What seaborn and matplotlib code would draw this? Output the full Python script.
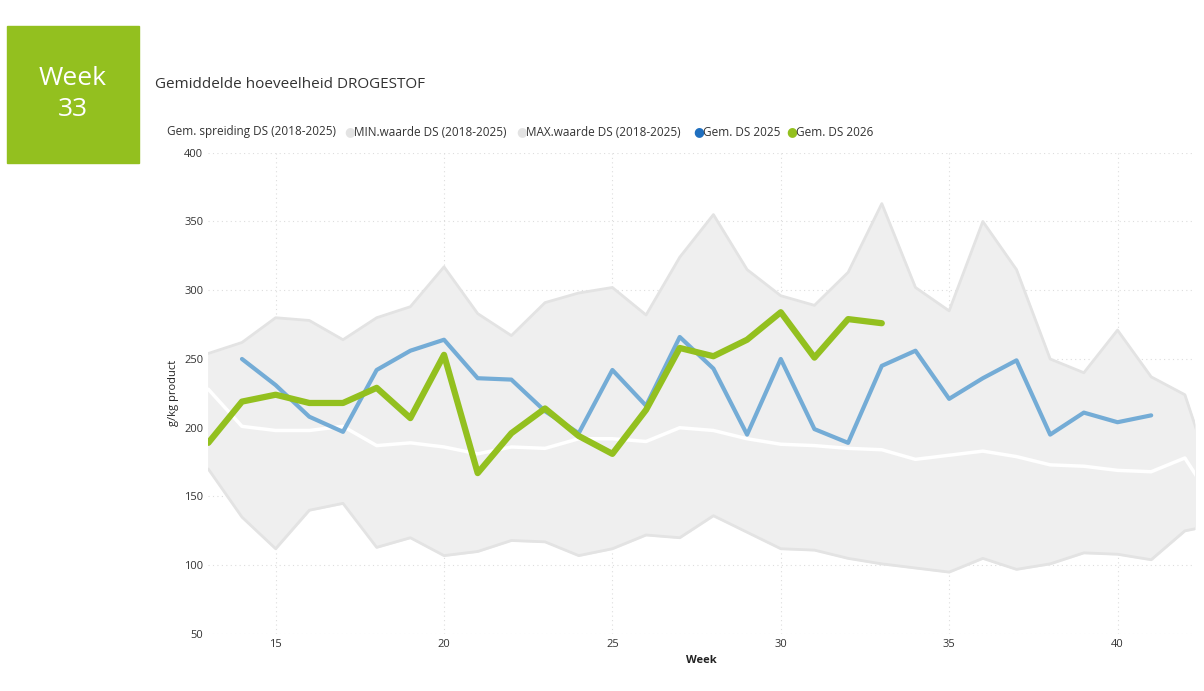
import matplotlib
matplotlib.use("Agg")
import matplotlib.pyplot as plt
import seaborn as sns
import pandas as pd

sns.set_theme(style="white")
plt.rcParams['font.family'] = ['Open Sans', 'DejaVu Sans']

weeks = list(range(13, 44))
max_ds = [254,262,280,278,264,280,288,317,283,267,291,298,302,282,324,355,315,296,289,313,363,302,285,350,315,250,240,271,237,224,150]
min_ds = [170,135,112,140,145,113,120,107,110,118,117,107,112,122,120,136,124,112,111,105,101,98,95,105,97,101,109,108,104,125,130]
mean_ds = [228,201,198,198,201,187,189,186,181,186,185,192,192,190,200,198,192,188,187,185,184,177,180,183,179,173,172,169,168,178,140]
weeks_2025 = list(range(14, 42))
ds_2025 = [250,231,208,197,242,256,264,236,235,212,196,242,216,266,243,195,250,199,189,245,256,221,236,249,195,211,204,209]
weeks_2026 = list(range(13, 34))
ds_2026 = [189,219,224,218,218,229,207,253,167,196,214,194,181,213,258,252,264,284,251,279,276]

fig = plt.figure(figsize=(12.04, 6.91), dpi=100)
ax = fig.add_axes([0.173, 0.0825, 0.8195, 0.6965])
ax.fill_between(weeks, min_ds, max_ds, color="#efefef", zorder=1)
sns.lineplot(x=weeks, y=max_ds, ax=ax, color="#e3e3e3", lw=2, zorder=2)
sns.lineplot(x=weeks, y=min_ds, ax=ax, color="#e3e3e3", lw=2, zorder=2)
sns.lineplot(x=weeks, y=mean_ds, ax=ax, color="white", lw=2.5, zorder=3)
sns.lineplot(x=weeks_2025, y=ds_2025, ax=ax, color="#74acd6", lw=3, zorder=4)
sns.lineplot(x=weeks_2026, y=ds_2026, ax=ax, color="#93c01f", lw=4.5, zorder=5)

ax.set_xlim(13, 42.3)
ax.set_ylim(50, 400)
ax.set_xticks([15, 20, 25, 30, 35, 40])
ax.set_yticks(range(50, 401, 50))
ax.tick_params(labelsize=8, colors="#333333", length=0)
ax.grid(True, color="#dddddd", linestyle=(0, (1, 3)), lw=0.8)
for s in ax.spines.values():
    s.set_visible(False)
ax.set_xlabel("Week", fontsize=8, fontweight="bold", color="#222222")
ax.set_ylabel("g/kg product", fontsize=8, color="#222222")

# Week box
fig.patches.append(plt.Rectangle((7/1204, 1-163/691), 132/1204, 137/691,
                                 transform=fig.transFigure, color="#93c01f"))
fig.text(73/1204, 1-94/691, "Week\n33", ha="center", va="center", color="white",
         fontsize=19, linespacing=1.3)
fig.text(155/1204, 1-85/691, "Gemiddelde hoeveelheid DROGESTOF", fontsize=11, color="#333333", va="center")

items = [("Gem. spreiding DS (2018-2025)", None),
         ("MIN.waarde DS (2018-2025)", "#e3e3e3"),
         ("MAX.waarde DS (2018-2025)", "#e3e3e3"),
         ("Gem. DS 2025", "#1f6fbf"),
         ("Gem. DS 2026", "#93c01f")]
xs = [167, 344, 516, 693, 786]
for (lab, col), x in zip(items, xs):
    tx = x
    if col:
        fig.text(x/1204, 1-132/691, "●", color=col, fontsize=9, va="center")
        tx = x + 10
    fig.text(tx/1204, 1-132/691, lab, fontsize=8.5, color="#333333", va="center")

fig.savefig("out.png", dpi=100)
